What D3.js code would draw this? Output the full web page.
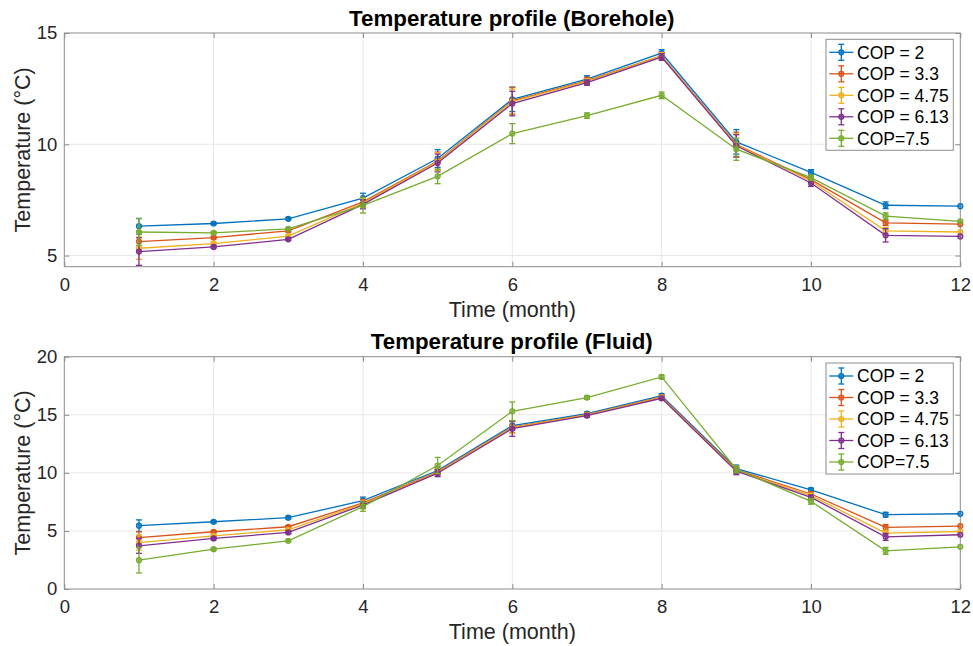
<!DOCTYPE html>
<html>
<head>
<meta charset="utf-8">
<script src="https://cdn.jsdelivr.net/npm/d3@7"></script>
<style>
  body { margin: 0; background: #fff; }
  svg { font-family: "Liberation Sans", Arial, Helvetica, sans-serif; }
  .tick text { font-size: 18.5px; fill: #262626; }
  .title { font-size: 22.3px; font-weight: bold; fill: #000; }
  .axlabel { font-size: 21.5px; fill: #262626; }
  .legend text { font-size: 17.5px; fill: #000; }
</style>
</head>
<body>
<svg id="chart" width="973" height="646"></svg>
<script>
// ─── Datos ────────────────────────────────────────────────────────────────────

const months = [1, 2, 3, 4, 5, 6, 7, 8, 9, 10, 11, 12];
const seriesNames = ['COP = 2', 'COP = 3.3', 'COP = 4.75', 'COP = 6.13', 'COP=7.5'];
const seriesColors = ['#0072BD', '#D95319', '#EDB120', '#7E2F8E', '#77AC30'];

// Borehole
const boreholeCop2   = [6.32, 6.44, 6.65, 7.58, 9.36, 12.02, 12.93, 14.10, 10.11, 8.74, 7.26, 7.22];
const boreholeCop33  = [5.63, 5.81, 6.11, 7.41, 9.25, 11.95, 12.86, 13.98, 9.99, 8.41, 6.47, 6.41];
const boreholeCop475 = [5.33, 5.54, 5.87, 7.36, 9.22, 11.92, 12.83, 13.97, 9.96, 8.35, 6.11, 6.06];
const boreholeCop613 = [5.18, 5.39, 5.73, 7.30, 9.16, 11.83, 12.77, 13.92, 9.93, 8.26, 5.91, 5.86];
const boreholeCop75  = [6.06, 6.02, 6.20, 7.26, 8.56, 10.48, 11.29, 12.20, 9.78, 8.50, 6.77, 6.54];

const boreholeErr2   = [0.35, 0.05, 0.05, 0.22, 0.40, 0.55, 0.15, 0.15, 0.55, 0.12, 0.15, 0];
const boreholeErr33  = [0.45, 0.05, 0.05, 0.20, 0.40, 0.60, 0.15, 0.15, 0.55, 0.12, 0.12, 0];
const boreholeErr475 = [0.50, 0.05, 0.05, 0.20, 0.40, 0.55, 0.12, 0.15, 0.50, 0.12, 0.15, 0];
const boreholeErr613 = [0.62, 0.05, 0.05, 0.20, 0.40, 0.55, 0.12, 0.15, 0.50, 0.15, 0.30, 0];
const boreholeErr75  = [0.60, 0.05, 0.05, 0.35, 0.33, 0.45, 0.12, 0.15, 0.50, 0.12, 0.15, 0];

// Fluid
const fluidCop2   = [5.45, 5.79, 6.14, 7.61, 10.20, 14.06, 15.10, 16.65, 10.37, 8.53, 6.40, 6.48];
const fluidCop33  = [4.43, 4.93, 5.36, 7.41, 10.09, 13.94, 15.01, 16.53, 10.26, 8.18, 5.30, 5.42];
const fluidCop475 = [4.00, 4.58, 5.10, 7.32, 10.05, 13.90, 14.98, 16.50, 10.20, 8.04, 4.81, 4.95];
const fluidCop613 = [3.72, 4.35, 4.87, 7.23, 9.97, 13.80, 14.93, 16.42, 10.14, 7.89, 4.49, 4.67];
const fluidCop75  = [2.48, 3.43, 4.15, 7.09, 10.63, 15.30, 16.48, 18.26, 10.31, 7.55, 3.28, 3.63];

const fluidErr2   = [0.50, 0.10, 0.10, 0.30, 0.30, 0.35, 0.15, 0.15, 0.30, 0.15, 0.20, 0];
const fluidErr33  = [0.50, 0.10, 0.10, 0.30, 0.30, 0.50, 0.15, 0.15, 0.30, 0.20, 0.25, 0];
const fluidErr475 = [0.65, 0.10, 0.10, 0.30, 0.30, 0.50, 0.15, 0.15, 0.30, 0.20, 0.25, 0];
const fluidErr613 = [0.65, 0.10, 0.10, 0.30, 0.30, 0.65, 0.15, 0.15, 0.30, 0.20, 0.30, 0];
const fluidErr75  = [1.10, 0.10, 0.10, 0.40, 0.70, 0.80, 0.15, 0.15, 0.30, 0.25, 0.30, 0];

const xTicks = [0, 2, 4, 6, 8, 10, 12];

const panels = [
  {
    title: 'Temperature profile (Borehole)',
    values: [boreholeCop2, boreholeCop33, boreholeCop475, boreholeCop613, boreholeCop75],
    errors: [boreholeErr2, boreholeErr33, boreholeErr475, boreholeErr613, boreholeErr75],
    yDomain: [4.5, 15], yTicks: [5, 10, 15],
    top: 33, bottom: 266.7
  },
  {
    title: 'Temperature profile (Fluid)',
    values: [fluidCop2, fluidCop33, fluidCop475, fluidCop613, fluidCop75],
    errors: [fluidErr2, fluidErr33, fluidErr475, fluidErr613, fluidErr75],
    yDomain: [0, 20], yTicks: [0, 5, 10, 15, 20],
    top: 356.7, bottom: 589
  }
];

// ─── Dibujo ───────────────────────────────────────────────────────────────────

const svg = d3.select('#chart');
const left = 64.3, right = 960.3;

panels.forEach(p => {
  const x = d3.scaleLinear().domain([0, 12]).range([left, right]);
  const y = d3.scaleLinear().domain(p.yDomain).range([p.bottom, p.top]);
  const g = svg.append('g');

  // Rejilla
  g.append('g').selectAll('line.vg').data(xTicks.slice(1, -1)).join('line')
    .attr('x1', d => x(d)).attr('x2', d => x(d))
    .attr('y1', p.top).attr('y2', p.bottom)
    .attr('stroke', '#e8e8e8').attr('stroke-width', 1);
  g.append('g').selectAll('line.hg').data(p.yTicks.filter(t => t > p.yDomain[0] && t < p.yDomain[1])).join('line')
    .attr('x1', left).attr('x2', right)
    .attr('y1', d => y(d)).attr('y2', d => y(d))
    .attr('stroke', '#e8e8e8').attr('stroke-width', 1);

  // Ejes
  const xAxis = d3.axisBottom(x).tickValues(xTicks).tickSize(-5).tickPadding(11);
  const yAxis = d3.axisLeft(y).tickValues(p.yTicks).tickSize(-5).tickPadding(7);
  g.append('g').attr('transform', `translate(0,${p.bottom})`).call(xAxis)
    .call(a => a.select('.domain').remove())
    .call(a => a.selectAll('.tick line').attr('stroke', '#8c8c8c'));
  g.append('g').attr('transform', `translate(${left},0)`).call(yAxis)
    .call(a => a.select('.domain').remove())
    .call(a => a.selectAll('.tick line').attr('stroke', '#8c8c8c'));
  // ticks en el lado superior/derecho
  g.append('g').attr('transform', `translate(0,${p.top})`)
    .call(d3.axisTop(x).tickValues(xTicks).tickSize(-5).tickFormat(''))
    .call(a => a.select('.domain').remove())
    .call(a => a.selectAll('.tick line').attr('stroke', '#8c8c8c'));
  g.append('g').attr('transform', `translate(${right},0)`)
    .call(d3.axisRight(y).tickValues(p.yTicks).tickSize(-5).tickFormat(''))
    .call(a => a.select('.domain').remove())
    .call(a => a.selectAll('.tick line').attr('stroke', '#8c8c8c'));

  g.append('rect')
    .attr('x', left).attr('y', p.top)
    .attr('width', right - left).attr('height', p.bottom - p.top)
    .attr('fill', 'none').attr('stroke', '#8c8c8c').attr('stroke-width', 1);

  // Series
  const line = d3.line().x((d, i) => x(months[i])).y(d => y(d));
  p.values.forEach((vals, si) => {
    const color = seriesColors[si];
    const errs = p.errors[si];
    const s = g.append('g');
    s.append('path').datum(vals).attr('d', line)
      .attr('fill', 'none').attr('stroke', color).attr('stroke-width', 1.3);
    const eb = s.selectAll('g.eb').data(vals.map((v, i) => ({ m: months[i], v, e: errs[i] })))
      .join('g').filter(d => d.e > 0);
    eb.append('line')
      .attr('x1', d => x(d.m)).attr('x2', d => x(d.m))
      .attr('y1', d => y(d.v - d.e)).attr('y2', d => y(d.v + d.e))
      .attr('stroke', color).attr('stroke-width', 1.3);
    [-1, 1].forEach(sign => {
      eb.append('line')
        .attr('x1', d => x(d.m) - 3).attr('x2', d => x(d.m) + 3)
        .attr('y1', d => y(d.v + sign * d.e)).attr('y2', d => y(d.v + sign * d.e))
        .attr('stroke', color).attr('stroke-width', 1.3);
    });
    s.selectAll('circle').data(vals).join('circle')
      .attr('cx', (d, i) => x(months[i])).attr('cy', d => y(d))
      .attr('r', 2.5)
      .attr('fill', color).attr('fill-opacity', 0.55)
      .attr('stroke', color).attr('stroke-width', 1.2);
  });

  // Títulos
  svg.append('text').attr('class', 'title')
    .attr('x', (left + right) / 2 - 0.5).attr('y', p.top - 7.5)
    .attr('text-anchor', 'middle').text(p.title);
  svg.append('text').attr('class', 'axlabel')
    .attr('x', (left + right) / 2).attr('y', p.bottom + 50)
    .attr('text-anchor', 'middle').text('Time (month)');
  svg.append('text').attr('class', 'axlabel')
    .attr('transform', `translate(30,${(p.top + p.bottom) / 2}) rotate(-90)`)
    .attr('text-anchor', 'middle').text('Temperature (°C)');

  // Leyenda
  const lx = 826, ly = p.top + 6.3, lw = 127.3, rowH = 21.5;
  const leg = svg.append('g').attr('class', 'legend');
  leg.append('rect').attr('x', lx).attr('y', ly)
    .attr('width', lw).attr('height', rowH * seriesNames.length + 3.5)
    .attr('fill', '#fff').attr('stroke', '#8c8c8c').attr('stroke-width', 1);
  seriesNames.forEach((name, i) => {
    const cy = ly + 13 + i * rowH;
    const c = seriesColors[i];
    const mx = lx + 15.3;
    leg.append('line').attr('x1', lx + 3.3).attr('x2', lx + 27.3)
      .attr('y1', cy).attr('y2', cy).attr('stroke', c).attr('stroke-width', 1.3);
    leg.append('line').attr('x1', mx).attr('x2', mx)
      .attr('y1', cy - 8).attr('y2', cy + 8).attr('stroke', c).attr('stroke-width', 1.3);
    [-8, 8].forEach(o => leg.append('line').attr('x1', mx - 3).attr('x2', mx + 3)
      .attr('y1', cy + o).attr('y2', cy + o).attr('stroke', c).attr('stroke-width', 1.3));
    leg.append('circle').attr('cx', mx).attr('cy', cy).attr('r', 2.5)
      .attr('fill', c).attr('fill-opacity', 0.55).attr('stroke', c).attr('stroke-width', 1.2);
    leg.append('text').attr('x', lx + 31).attr('y', cy).attr('dy', '0.36em').text(name);
  });
});
</script>
</body>
</html>
